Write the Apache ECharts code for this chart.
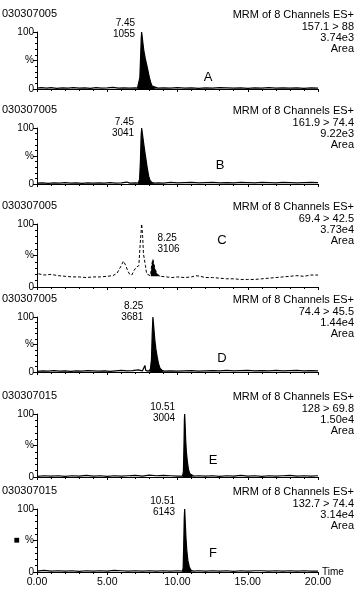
<!DOCTYPE html>
<html lang="en">
<head>
    <meta charset="UTF-8">
    <title>MRM chromatograms</title>
    <script src="https://cdn.jsdelivr.net/npm/echarts@6/dist/echarts.min.js"></script>
    <style>
        *{margin:0;padding:0;}
        html,body{width:100%;height:100%;background:#fff;}
        #chart{width:359px;height:591px;}
    </style>
</head>
<body>
<div id="chart"></div>
<script>
    // sample ids, channel transitions, max intensity, peak info
    var sampleIds=["030307005","030307005","030307005","030307005","030307015","030307015"]
    var channels=["157.1 > 88","161.9 > 74.4","69.4 > 42.5","74.4 > 45.5","128 > 69.8","132.7 > 74.4"]
    var maxIntensity=["3.74e3","9.22e3","3.73e4","1.44e4","1.50e4","3.14e4"]
    var peakTimes=[7.45,7.45,8.25,8.25,10.51,10.51]
    var peakAreas=["1055","3041","3106","3681","3004","6143"]
    var panelLetters=["A","B","C","D","E","F"]
    // integrated region [start,end] and its baseline (%)
    var fillRanges=[[7.15,8.6],[7.2,8.4],[8.1,8.8],[8.0,9.05],[10.35,11.15],[10.35,11.1]]
    var fillBase=[0,0,17,0,0,0]

    // traces: [time (min), relative intensity %]
    var traceA=[[0,1.5],[0.3,2.5],[0.7,1.5],[1.0,2.5],[1.4,1],[1.8,2],[2.2,1.5],[2.6,2.5],[3.0,1.5],[3.4,2],[3.8,1],[4.2,2.5],[4.6,1.5],[5.0,2],[5.4,3],[5.8,1.5],[6.2,2],[6.6,1.5],[7.0,2],[7.15,1.5],[7.25,4],[7.32,20],[7.38,60],[7.42,90],[7.45,100],[7.52,84],[7.6,68],[7.7,54],[7.8,43],[7.9,32],[8.0,20],[8.1,11],[8.2,5],[8.3,2.5],[8.6,1.5],[9.0,2],[9.5,1.5],[10,2.5],[10.5,1.5],[11,2],[11.5,1],[12,2],[12.5,1.5],[13,2.5],[13.5,2],[14,1.5],[14.5,2],[15,1],[15.5,2],[16,1.5],[16.5,2.5],[17,1.5],[17.5,2],[18,1.5],[18.5,2],[19,1],[19.5,2],[20,1.5]]
    var traceB=[[0,1.5],[0.4,2],[0.8,1],[1.2,2],[1.6,1.5],[2.0,2.5],[2.4,1.5],[2.8,2],[3.2,1],[3.6,2],[4.0,1.5],[4.4,2],[4.8,1.5],[5.2,2.5],[5.6,1.5],[6.0,2],[6.4,3.5],[6.6,1.5],[7.0,2],[7.2,1.5],[7.3,8],[7.36,40],[7.41,85],[7.45,100],[7.5,90],[7.58,75],[7.66,60],[7.75,45],[7.85,28],[7.95,14],[8.05,6],[8.2,2.5],[8.4,1.5],[8.6,2],[9.0,1.5],[9.5,3],[10,2],[10.5,2.5],[11,3],[11.5,2],[12,2.5],[12.5,3],[13,2],[13.5,2.5],[14,2],[14.5,3],[15,2.5],[15.5,2],[16,3],[16.5,2.5],[17,2],[17.5,3],[18,2.5],[18.5,2],[19,2.5],[19.5,3],[20,2.5]]
    var traceC=[[0.1,21],[0.5,19],[1.0,20],[1.5,18],[2.0,17],[2.5,16],[3.0,16],[3.5,15],[4.0,16],[4.5,16],[5.0,17],[5.4,18],[5.7,22],[5.95,32],[6.15,41],[6.3,35],[6.45,26],[6.6,20],[6.75,19],[6.9,26],[7.05,31],[7.15,28],[7.25,34],[7.35,70],[7.45,100],[7.52,80],[7.58,52],[7.64,50],[7.72,34],[7.8,21],[7.9,18],[8.05,18],[8.1,22],[8.17,36],[8.25,44],[8.32,37],[8.4,29],[8.5,23],[8.62,19],[8.8,17],[9.2,16],[9.6,15],[10.0,16],[10.5,15],[11.0,16],[11.3,18],[11.6,17],[12.0,15],[12.5,15],[13.0,14],[13.5,13],[14.0,13],[14.5,12],[15.0,12],[15.5,12],[16.0,13],[16.5,14],[17.0,15],[17.5,16],[18.0,17],[18.5,18],[19.0,17],[19.5,19],[20.0,19]]
    var traceD=[[0,1],[0.4,2],[0.8,1.5],[1.2,2.5],[1.6,1.5],[2.0,2],[2.4,1],[2.8,2],[3.2,1.5],[3.6,2.5],[4.0,2],[4.4,1.5],[4.8,2],[5.2,1],[5.6,2],[6.0,3],[6.4,2],[6.8,2.5],[7.2,4],[7.5,2],[7.62,3],[7.68,12],[7.74,3],[7.9,1.5],[8.0,1.5],[8.1,5],[8.15,25],[8.2,70],[8.25,100],[8.3,85],[8.38,60],[8.46,42],[8.55,28],[8.65,15],[8.75,7],[8.9,3],[9.05,1.5],[9.5,2],[10,1.5],[10.5,2],[11,2.5],[11.5,1.5],[12,2],[12.5,2.5],[13,2],[13.5,3],[14,2],[14.5,2.5],[15,3],[15.5,2],[16,2.5],[16.5,2],[17,3],[17.5,2],[18,2.5],[18.5,3],[19,2],[19.5,2.5],[20,2]]
    var traceE=[[0,1],[0.5,2],[1.0,1.5],[1.5,2],[2.0,1],[2.5,2],[3.0,1.5],[3.5,2.5],[4.0,1.5],[4.5,2],[5.0,1],[5.5,2],[6.0,1.5],[6.5,2],[7.0,2.5],[7.5,1.5],[8.0,3],[8.5,2],[9.0,2.5],[9.5,2],[10.0,1.5],[10.35,1.5],[10.42,8],[10.46,50],[10.49,90],[10.51,100],[10.54,85],[10.58,60],[10.63,40],[10.7,25],[10.78,12],[10.88,5],[11.0,2],[11.15,1.5],[11.5,2],[12,1.5],[12.5,2],[13,1],[13.5,2],[14,1.5],[14.5,2.5],[15,1.5],[15.5,2],[16,1],[16.5,2],[17,1.5],[17.5,2],[18,2.5],[18.5,1.5],[19,2],[19.5,1.5],[20,2]]
    var traceF=[[0,1.5],[0.5,2.5],[1.0,1.5],[1.5,2],[2.0,1.5],[2.5,2],[3.0,1],[3.5,2],[4.0,1.5],[4.5,2],[5.0,1.5],[5.5,2.5],[6.0,2],[6.5,1.5],[7.0,2],[7.5,1.5],[8.0,2],[8.5,1.5],[9.0,2],[9.5,1.5],[10.0,2],[10.35,1.5],[10.4,6],[10.44,40],[10.48,85],[10.51,100],[10.55,80],[10.6,55],[10.66,35],[10.74,18],[10.84,8],[10.95,3],[11.1,1.5],[11.5,2],[12,1.5],[12.5,2],[13,1.5],[13.5,2],[14,1],[14.5,2],[15,1.5],[15.5,2],[16,2],[16.5,1.5],[17,2],[17.5,1.5],[18,2],[18.5,1.5],[19,2],[19.5,1.5],[20,1.5]]
    var traces=[traceA,traceB,traceC,traceD,traceE,traceF]

    // layout (pixel positions of the 100 and 0 lines of each panel)
    var tops=[32,128,224,317,414,509]
    var heights=[57,56,63,55,63,63]
    var letterPos=[[208,77],[220,165],[222,240],[222,358],[213,460],[213,553]]
    var labelPos=["left","left","right","left","left","left"]
    var labelDy=[-3,0,-16,-5,-1,-2]
    var labelDist=[6,7,4,9,9,9]

    var font='"Liberation Sans", Arial, sans-serif'
    var grids=[],xAxes=[],yAxes=[],series=[],graphics=[]

    function txt(x,y,s,align,size){
        graphics.push({type:"text",x:x,y:y,silent:true,style:{
            text:s,fill:"#000",font:size+"px "+font,
            textAlign:align,textVerticalAlign:"middle",align:align,verticalAlign:"middle"}})
    }

    for(var i=0;i<6;i++){
        var last=(i===5)
        grids.push({left:37,right:41,top:tops[i],height:heights[i]})
        xAxes.push({
            type:"value",gridIndex:i,min:0,max:20,interval:5,
            axisLine:{show:true,onZero:false,lineStyle:{color:"#000",width:1}},
            axisTick:{show:true,length:3,lineStyle:{color:"#000"}},
            minorTick:{show:true,splitNumber:5,length:2,lineStyle:{color:"#000"}},
            splitLine:{show:false},
            axisLabel:{show:last,color:"#000",fontSize:10.5,fontFamily:font,margin:5,
                formatter:function(v){return v.toFixed(2)}},
            name:last?"Time":"",nameLocation:"end",nameGap:4,
            nameTextStyle:{color:"#000",fontSize:10,fontFamily:font}
        })
        yAxes.push({
            type:"value",gridIndex:i,min:0,max:100,interval:50,
            axisLine:{show:true,lineStyle:{color:"#000",width:1}},
            axisTick:{show:true,length:4,lineStyle:{color:"#000"}},
            minorTick:{show:true,splitNumber:5,length:2,lineStyle:{color:"#000"}},
            splitLine:{show:false},
            axisLabel:{color:"#000",fontSize:10,fontFamily:font,margin:3,
                formatter:(function(k){return function(v){
                    if(v===100)return "100"
                    if(v===50)return k===5?"\u25A0  %":"%"
                    if(v===0)return "0"
                    return ""
                }})(i)}
        })
        var tr=traces[i],fr=fillRanges[i]
        var apex=tr.filter(function(p){return p[0]===peakTimes[i]})[0]
        series.push({
            type:"line",xAxisIndex:i,yAxisIndex:i,data:tr,symbol:"none",silent:true,
            lineStyle:{color:"#000",width:i===2?1:1.2,type:i===2?[3,2]:"solid"}
        })
        series.push({
            type:"line",xAxisIndex:i,yAxisIndex:i,symbol:"none",silent:true,
            data:tr.filter(function(p){return p[0]>=fr[0]&&p[0]<=fr[1]}),
            lineStyle:{width:0},
            areaStyle:{color:"#000",opacity:1,origin:fillBase[i]},
            markPoint:{
                symbol:"rect",symbolSize:1,itemStyle:{color:"rgba(0,0,0,0)"},
                data:[{coord:apex}],
                label:{show:true,position:labelPos[i],distance:labelDist[i],offset:[0,labelDy[i]],
                    color:"#000",fontSize:10,fontFamily:font,lineHeight:11,
                    formatter:peakTimes[i].toFixed(2)+"\n"+peakAreas[i]}
            }
        })
        // headers
        txt(2,tops[i]-18,sampleIds[i],"left",11)
        txt(354,tops[i]-17,"MRM of 8 Channels ES+","right",11)
        txt(354,tops[i]-5,channels[i],"right",11)
        txt(354,tops[i]+6,maxIntensity[i],"right",11)
        txt(354,tops[i]+17,"Area","right",11)
        txt(letterPos[i][0],letterPos[i][1],panelLetters[i],"center",13)
    }

    var myCharts=echarts.init(document.getElementById("chart"))
    myCharts.setOption({
        animation:false,
        backgroundColor:"#fff",
        grid:grids,
        xAxis:xAxes,
        yAxis:yAxes,
        series:series,
        graphic:graphics
    })
</script>
</body>
</html>
